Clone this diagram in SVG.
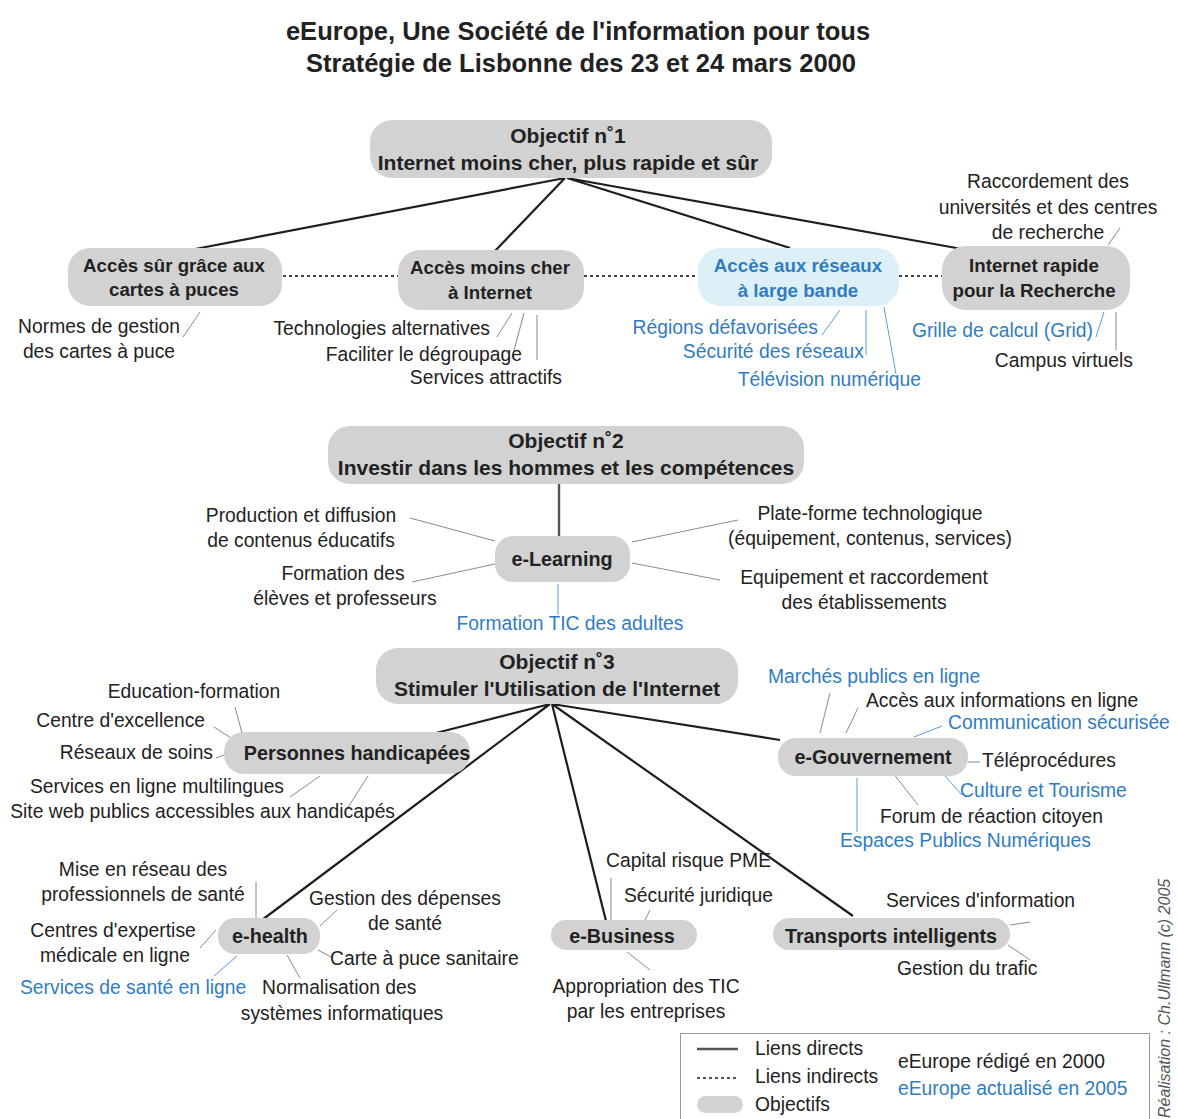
<svg xmlns="http://www.w3.org/2000/svg" width="1177" height="1119" viewBox="0 0 1177 1119">
<style>
text{font-family:"Liberation Sans",Arial,sans-serif;fill:#222}
.t{font-size:25.5px;font-weight:bold;text-anchor:middle}
.o{font-size:21px;font-weight:bold;text-anchor:middle}
.b{font-size:18.7px;font-weight:bold;text-anchor:middle}
.c{font-size:19.8px;font-weight:bold;text-anchor:middle}
.l{font-size:19.3px}
.m{text-anchor:middle}
.e{text-anchor:end}
.blue{fill:#2f7cc4}
.box{fill:#d2d2d2}
.lbox{fill:#ddf0f8}
.main{stroke:#1e1e1e;stroke-width:2.2;fill:none}
.dot{stroke:#444;stroke-width:2;stroke-dasharray:3,3;fill:none}
.sub{stroke:#8a8a8a;stroke-width:1;fill:none}
.sb{stroke:#5d9cd6;stroke-width:1;fill:none}
.v{stroke:#555;stroke-width:2.4;fill:none}
</style>
<rect width="1177" height="1119" fill="#fff"/>
<text class="t" x="578" y="40">eEurope,  Une Société de l'information pour tous</text>
<text class="t" x="581" y="72">Stratégie de Lisbonne des 23 et 24 mars 2000</text>

<g id="connectors">
<path class="main" d="M565,178 L190,250 M565,178 L495,251 M567,178 L790,248 M567,178 L962,249"/>
<path class="dot" d="M283,276 L398,276 M584,276 L698,276 M899,276 L942,276"/>
<path class="sub" d="M183,337 L200,312 M497,337 L512,313 M512,358 L524,313 M537,360 L537,315 M1108,245 L1120,228 M1116,350 L1116,312"/>
<path class="sb" d="M822,335 L840,310 M866,355 L866,310 M896,374 L884,307 M1096,337 L1104,312"/>
<path class="v" d="M559,484 L559,537"/>
<path class="sub" d="M410,518 L495,541 M412,582 L495,564 M632,542 L738,520 M632,563 L720,580"/>
<path class="sb" d="M558,584 L558,615"/>
<path class="main" d="M550,704 L436,733 M550,704 L262,920 M552,704 L606,921 M552,704 L853,916 M552,704 L780,740"/>
<path class="sub" d="M235,707 L242,733 M214,727 L231,738 M216,758 L224,755 M290,797 L320,776 M345,812 L368,776"/>
<path class="sub" d="M830,693 L820,733 M858,708 L846,733 M968,762 L980,762 M893,773 L918,805"/>
<path class="sb" d="M942,726 L914,737 M945,776 L962,795 M857,778 L857,832"/>
<path class="sub" d="M256,882 L256,918 M200,948 L216,930 M320,926 L337,910 M318,950 L331,957 M287,955 L300,978"/>
<path class="sb" d="M214,976 L237,956"/>
<path class="sub" d="M611,878 L611,920 M650,910 L645,920 M627,952 L650,970 M1010,925 L1030,922 M1008,945 L1030,960"/>
</g>

<g id="obj1">
<rect class="box" x="370" y="120" width="402" height="58" rx="22"/>
<text class="o" x="568" y="143">Objectif n˚1</text>
<text class="o" x="568" y="170">Internet moins cher, plus rapide et sûr</text>
</g>
<g id="acces-sur">
<rect class="box" x="68" y="248" width="214" height="58" rx="22"/>
<text class="b" x="174" y="272">Accès sûr grâce aux</text>
<text class="b" x="174" y="296">cartes à puces</text>
</g>
<g id="acces-moins-cher">
<rect class="box" x="398" y="250" width="186" height="60" rx="22"/>
<text class="b" x="490" y="274">Accès moins cher</text>
<text class="b" x="490" y="299">à Internet</text>
</g>
<g id="acces-reseaux">
<rect class="lbox" x="698" y="248" width="201" height="58" rx="22"/>
<text class="b blue" x="798" y="272">Accès aux réseaux</text>
<text class="b blue" x="798" y="297">à large bande</text>
</g>
<g id="internet-rapide">
<rect class="box" x="942" y="246" width="188" height="64" rx="24"/>
<text class="b" x="1034" y="272">Internet rapide</text>
<text class="b" x="1034" y="297">pour la Recherche</text>
</g>
<g id="obj1-items">
<text class="l m" x="99" y="333">Normes de gestion</text>
<text class="l m" x="99" y="358">des cartes à puce</text>
<text class="l e" x="490" y="335">Technologies alternatives</text>
<text class="l e" x="522" y="361">Faciliter le dégroupage</text>
<text class="l e" x="562" y="384">Services attractifs</text>
<text class="l e blue" x="818" y="334">Régions défavorisées</text>
<text class="l e blue" x="864" y="358">Sécurité des réseaux</text>
<text class="l e blue" x="921" y="386">Télévision numérique</text>
<text class="l m" x="1048" y="188">Raccordement des</text>
<text class="l m" x="1048" y="214">universités et des centres</text>
<text class="l m" x="1048" y="239">de recherche</text>
<text class="l e blue" x="1093" y="337">Grille de calcul (Grid)</text>
<text class="l e" x="1133" y="367">Campus virtuels</text>
</g>

<g id="obj2">
<rect class="box" x="328" y="426" width="476" height="58" rx="22"/>
<text class="o" x="566" y="448">Objectif n˚2</text>
<text class="o" x="566" y="475">Investir dans les hommes et les compétences</text>
</g>
<g id="elearning">
<rect class="box" x="495" y="536" width="135" height="46" rx="18"/>
<text class="c" x="562" y="566">e-Learning</text>
</g>
<g id="obj2-items">
<text class="l m" x="301" y="522">Production et diffusion</text>
<text class="l m" x="301" y="547">de contenus éducatifs</text>
<text class="l m" x="343" y="580">Formation des</text>
<text class="l m" x="345" y="605">élèves et professeurs</text>
<text class="l m" x="870" y="520">Plate-forme technologique</text>
<text class="l m" x="870" y="545">(équipement, contenus, services)</text>
<text class="l m" x="864" y="584">Equipement et raccordement</text>
<text class="l m" x="864" y="609">des établissements</text>
<text class="l m blue" x="570" y="630">Formation TIC des adultes</text>
</g>

<g id="obj3">
<rect class="box" x="376" y="648" width="362" height="56" rx="22"/>
<text class="o" x="557" y="669">Objectif n˚3</text>
<text class="o" x="557" y="696">Stimuler l'Utilisation de l'Internet</text>
</g>
<g id="handicapees">
<rect class="box" x="224" y="732" width="246" height="42" rx="20"/>
<text class="c" x="357" y="760">Personnes handicapées</text>
</g>
<g id="handicapees-items">
<text class="l m" x="194" y="698">Education-formation</text>
<text class="l e" x="205" y="727">Centre d'excellence</text>
<text class="l e" x="213" y="759">Réseaux de soins</text>
<text class="l e" x="284" y="793">Services en ligne multilingues</text>
<text class="l e" x="395" y="818">Site web publics accessibles aux handicapés</text>
</g>
<g id="egouv">
<rect class="box" x="778" y="738" width="190" height="38" rx="18"/>
<text class="c" x="873" y="764">e-Gouvernement</text>
</g>
<g id="egouv-items">
<text class="l blue" x="768" y="683">Marchés publics en ligne</text>
<text class="l" x="866" y="707">Accès aux informations en ligne</text>
<text class="l blue" x="948" y="729">Communication sécurisée</text>
<text class="l" x="982" y="767">Téléprocédures</text>
<text class="l blue" x="960" y="797">Culture et Tourisme</text>
<text class="l" x="880" y="823">Forum de réaction citoyen</text>
<text class="l blue" x="840" y="847">Espaces Publics Numériques</text>
</g>
<g id="ehealth">
<rect class="box" x="218" y="918" width="102" height="36" rx="17"/>
<text class="c" x="270" y="943">e-health</text>
</g>
<g id="ehealth-items">
<text class="l m" x="143" y="876">Mise en réseau des</text>
<text class="l m" x="143" y="901">professionnels de santé</text>
<text class="l m" x="113" y="937">Centres d'expertise</text>
<text class="l m" x="115" y="962">médicale en ligne</text>
<text class="l blue" x="20" y="994">Services de santé en ligne</text>
<text class="l m" x="405" y="905">Gestion des dépenses</text>
<text class="l m" x="405" y="930">de santé</text>
<text class="l" x="330" y="965">Carte à puce sanitaire</text>
<text class="l" x="262" y="994">Normalisation des</text>
<text class="l m" x="342" y="1020">systèmes informatiques</text>
</g>
<g id="ebusiness">
<rect class="box" x="551" y="920" width="146" height="30" rx="15"/>
<text class="c" x="622" y="943">e-Business</text>
</g>
<g id="ebusiness-items">
<text class="l" x="606" y="867">Capital risque PME</text>
<text class="l" x="624" y="902">Sécurité juridique</text>
<text class="l m" x="646" y="993">Appropriation des TIC</text>
<text class="l m" x="646" y="1018">par les entreprises</text>
</g>
<g id="transports">
<rect class="box" x="773" y="918" width="237" height="32" rx="16"/>
<text class="c" x="891" y="943">Transports intelligents</text>
</g>
<g id="transports-items">
<text class="l" x="886" y="907">Services d'information</text>
<text class="l" x="897" y="975">Gestion du trafic</text>
</g>

<g id="legend">
<rect x="680.5" y="1033.5" width="469" height="100" fill="#fff" stroke="#999" stroke-width="1"/>
<line x1="697" y1="1049" x2="738" y2="1049" stroke="#555" stroke-width="2.4"/>
<text class="l" x="755" y="1055">Liens directs</text>
<line x1="697" y1="1078" x2="738" y2="1078" stroke="#555" stroke-width="2" stroke-dasharray="3,3"/>
<text class="l" x="755" y="1083">Liens indirects</text>
<rect class="box" x="697" y="1096" width="46" height="17" rx="8.5"/>
<text class="l" x="755" y="1111">Objectifs</text>
<text class="l" x="898" y="1068">eEurope rédigé en 2000</text>
<text class="l blue" x="898" y="1095">eEurope actualisé en 2005</text>
</g>
<text x="1170" y="1118" transform="rotate(-90 1170 1118)" style="font-size:16px;font-style:italic;fill:#555">Réalisation : Ch.Ullmann (c) 2005</text>
</svg>
